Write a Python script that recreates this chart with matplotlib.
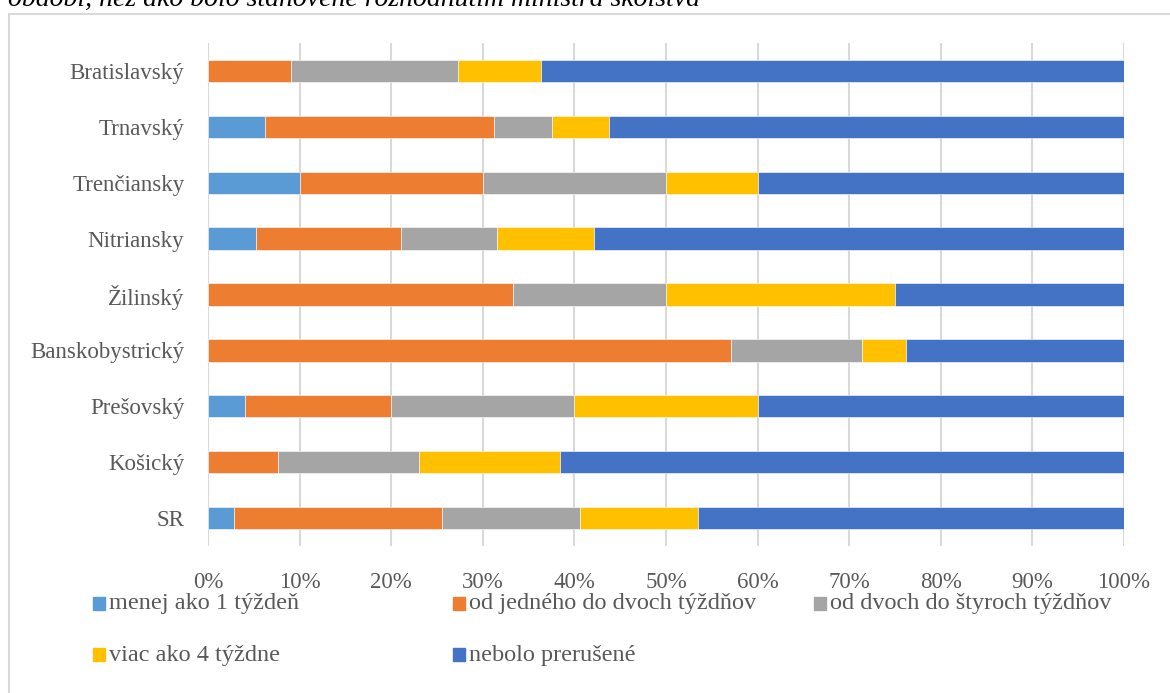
import matplotlib.pyplot as plt
from matplotlib.patches import Rectangle

# kraje (zhora nadol tak ako v grafe)
kraje = ["Bratislavský", "Trnavský", "Trenčiansky", "Nitriansky", "Žilinský",
         "Banskobystrický", "Prešovský", "Košický", "SR"]

# podiely v % pre každú kategóriu
menej_1 = [0.0, 6.25, 10.0, 5.26, 0.0, 0.0, 4.0, 0.0, 2.8]
od_1_do_2 = [9.09, 25.0, 20.0, 15.79, 33.33, 57.14, 16.0, 7.69, 22.8]
od_2_do_4 = [18.18, 6.25, 20.0, 10.53, 16.67, 14.29, 20.0, 15.38, 15.0]
viac_4 = [9.09, 6.25, 10.0, 10.53, 25.0, 4.76, 20.0, 15.38, 12.9]
neprerusene = [63.64, 56.25, 40.0, 57.89, 25.0, 23.81, 40.0, 61.54, 46.5]

nazvy = ["menej ako 1 týždeň", "od jedného do dvoch týždňov",
         "od dvoch do štyroch týždňov", "viac ako 4 týždne", "nebolo prerušené"]
farby = ["#5B9BD5", "#ED7D31", "#A5A5A5", "#FFC000", "#4472C4"]

TEXT = "#595959"
plt.rcParams["font.family"] = ["Liberation Serif", "DejaVu Serif"]

fig = plt.figure(figsize=(11.7, 6.93), dpi=100)
W, H = 1170, 693

# rámik grafu
fig.patches.append(Rectangle((9 / W, -0.1), 1.2, (H - 14) / H + 0.1,
                             transform=fig.transFigure, fill=False,
                             edgecolor="#d9d9d9", linewidth=1.5))

# orezaný text nad grafom (v origináli je tiež orezaný)
fig.text(8 / W, (H + 1) / H, "období, než ako bolo stanovené rozhodnutím ministra školstva",
         fontsize=20, style="italic", color="black", va="center", ha="left")

ax = fig.add_axes([208 / W, (H - 546) / H, (1124 - 208) / W, (546 - 43) / H])

y = list(range(len(kraje)))
vlavo = [0.0] * len(kraje)
for hodnoty, nazov, farba in zip([menej_1, od_1_do_2, od_2_do_4, viac_4, neprerusene],
                                 nazvy, farby):
    ax.barh(y, hodnoty, left=vlavo, height=0.4, color=farba, label=nazov,
            edgecolor="white", linewidth=0.4, zorder=3)
    vlavo = [a + b for a, b in zip(vlavo, hodnoty)]

ax.set_xlim(0, 100)
ax.set_ylim(len(kraje) - 0.5, -0.5)
ax.set_yticks(y)
ax.set_yticklabels(kraje)
ax.set_xticks(range(0, 101, 10))
ax.set_xticklabels([f"{v}%" for v in range(0, 101, 10)])
ax.tick_params(axis="both", length=0, labelsize=16.5, labelcolor=TEXT)
ax.tick_params(axis="x", pad=19)
ax.tick_params(axis="y", pad=17)
ax.grid(axis="x", color="#d9d9d9", linewidth=1.5, zorder=0)
for s in ax.spines.values():
    s.set_visible(False)

# legenda - ručne umiestnená (3 stĺpce)
stlpce_x = [93, 453, 814]
riadky_y = [604, 655]
for i, (nazov, farba) in enumerate(zip(nazvy, farby)):
    px = stlpce_x[i % 3]
    py = riadky_y[i // 3]
    fig.patches.append(Rectangle((px / W, (H - py - 6) / H), 12 / W, 13 / H,
                                 transform=fig.transFigure, color=farba))
    fig.text((px + 16) / W, (H - py) / H, nazov, fontsize=17.5, color=TEXT,
             va="center", ha="left")

fig.savefig("out.png", dpi=100)
